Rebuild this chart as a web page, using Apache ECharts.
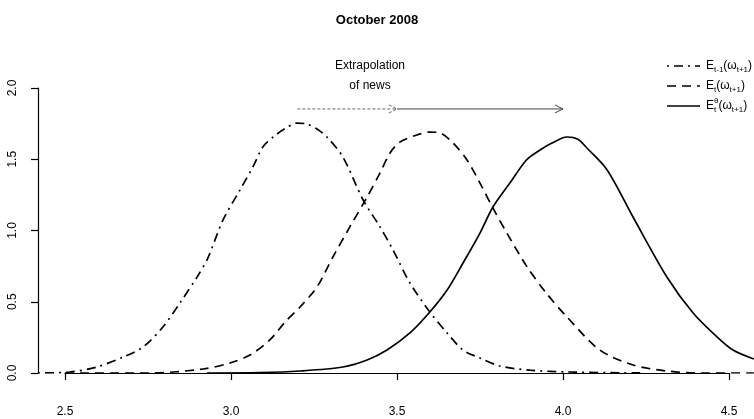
<!DOCTYPE html>
<html>
<head>
<meta charset="utf-8">
<script src="https://cdn.jsdelivr.net/npm/echarts@6/dist/echarts.min.js"></script>
<style>
  html, body { margin: 0; padding: 0; background: #fff; }
  #chart { width: 754px; height: 419px; }
</style>
</head>
<body>
<div id="chart"></div>
<script>
// Density of the expected omega_{t+1}: previous-period expectation
const prevX = [2.419, 2.515, 2.596, 2.675, 2.735, 2.795, 2.846, 2.898, 2.93, 2.976, 3.027, 3.066, 3.096, 3.127, 3.163, 3.199, 3.229, 3.26, 3.289, 3.337, 3.398, 3.449, 3.488, 3.539, 3.599, 3.651, 3.699, 3.75, 3.81, 3.9, 4.02, 4.247];
const prevY = [0.0, 0.007, 0.042, 0.112, 0.182, 0.323, 0.491, 0.674, 0.805, 1.074, 1.284, 1.446, 1.586, 1.656, 1.715, 1.754, 1.747, 1.71, 1.656, 1.516, 1.214, 1.025, 0.863, 0.632, 0.428, 0.281, 0.161, 0.105, 0.049, 0.02, 0.007, 0.0];

// Current-period expectation
const currX = [2.5, 2.756, 2.916, 2.997, 3.057, 3.117, 3.163, 3.208, 3.259, 3.307, 3.358, 3.41, 3.449, 3.479, 3.509, 3.56, 3.599, 3.63, 3.669, 3.711, 3.75, 3.789, 3.831, 3.892, 3.95, 4.012, 4.111, 4.211, 4.313, 4.41, 4.575];
const currY = [0.0, 0.0, 0.028, 0.07, 0.126, 0.232, 0.358, 0.463, 0.604, 0.814, 1.025, 1.235, 1.404, 1.544, 1.621, 1.67, 1.691, 1.684, 1.614, 1.495, 1.333, 1.158, 0.982, 0.744, 0.56, 0.393, 0.161, 0.056, 0.014, 0.0, 0.0];

// Expectation after extrapolating the news
const newsX = [2.928, 3.087, 3.208, 3.337, 3.41, 3.47, 3.539, 3.599, 3.651, 3.699, 3.75, 3.789, 3.84, 3.89, 3.931, 3.967, 4.012, 4.045, 4.072, 4.133, 4.211, 4.313, 4.392, 4.464, 4.512, 4.575];
const newsY = [0.0, 0.003, 0.014, 0.042, 0.091, 0.161, 0.281, 0.428, 0.582, 0.772, 0.982, 1.165, 1.333, 1.495, 1.565, 1.614, 1.656, 1.64, 1.579, 1.425, 1.095, 0.674, 0.421, 0.253, 0.161, 0.098];

// Arrows: [from, to, level, dashed]
const arrowFrom = [3.2, 3.5];
const arrowTo = [3.5, 4.0];
const arrowLevel = [1.853, 1.853];
const arrowDashed = [1, 0];

const xTicks = [2.5, 3.0, 3.5, 4.0, 4.5];
const yTicks = [0.0, 0.5, 1.0, 1.5, 2.0];

// plotting window (wider than the labelled axes, as in base-R graphics)
const xLo = 2.4187, xHi = 4.5754;

const FONT = '"Liberation Sans", Arial, Helvetica, sans-serif';
const DASH = [9, 6];
const DASHDOT = [2, 5, 9, 5];

function pairs(xs, ys) { return xs.map((x, i) => [x, ys[i]]); }

const chart = echarts.init(document.getElementById('chart'), null, { renderer: 'canvas' });

// measure text for the hand-built legend labels
const mctx = document.createElement('canvas').getContext('2d');
function tw(str, size) { mctx.font = size + 'px ' + FONT; return mctx.measureText(str).width; }

// Build E_sub(omega_sub) style label as a row of text pieces
function mathLabel(x, y, parts) {
  const children = [];
  let cx = x;
  const piece = (t, size, dy) => ({ type: 'text', x: cx, y: y + dy, style: { text: t, font: size + 'px ' + FONT, fill: '#000', textVerticalAlign: 'middle' } });
  parts.forEach(p => {
    if (p.stack) {
      let w = 0;
      p.stack.forEach(s => { children.push(piece(s.t, s.size, s.dy)); w = Math.max(w, tw(s.t, s.size)); });
      cx += w;
    } else {
      children.push(piece(p.t, p.size, p.dy));
      cx += tw(p.t, p.size);
    }
  });
  return children;
}

const B = 12, S = 8, SUB = 4;
const legendRows = [
  { dash: DASHDOT, parts: [{ t: 'E', size: B, dy: 0 }, { t: 't-1', size: S, dy: SUB }, { t: '(\u03c9', size: B, dy: 0 }, { t: 't+1', size: S, dy: SUB }, { t: ')', size: B, dy: 0 }] },
  { dash: DASH, parts: [{ t: 'E', size: B, dy: 0 }, { t: 't', size: S, dy: SUB }, { t: '(\u03c9', size: B, dy: 0 }, { t: 't+1', size: S, dy: SUB }, { t: ')', size: B, dy: 0 }] },
  { dash: 'solid', parts: [{ t: 'E', size: B, dy: 0 }, { stack: [{ t: '\u03b8', size: S, dy: -5 }, { t: 't', size: S, dy: SUB }] }, { t: '(\u03c9', size: B, dy: 0 }, { t: 't+1', size: S, dy: SUB }, { t: ')', size: B, dy: 0 }] }
];

const graphics = [];
legendRows.forEach((r, i) => {
  const yy = 66 + i * 20;
  graphics.push({ type: 'line', shape: { x1: 667, y1: yy, x2: 700, y2: yy }, style: { stroke: '#000', lineWidth: 1.6, lineDash: r.dash === 'solid' ? null : r.dash } });
  mathLabel(706, yy, r.parts).forEach(c => graphics.push(c));
});
graphics.push({ type: 'text', x: 370, y: 66, style: { text: 'Extrapolation', font: '12px ' + FONT, fill: '#000', textAlign: 'center', textVerticalAlign: 'middle' } });
graphics.push({ type: 'text', x: 370, y: 86, style: { text: 'of news', font: '12px ' + FONT, fill: '#000', textAlign: 'center', textVerticalAlign: 'middle' } });

const lineSeries = (name, xs, ys, dash) => ({
  name, type: 'line', data: pairs(xs, ys), showSymbol: false, symbol: 'none',
  xAxisIndex: 0, yAxisIndex: 0, smooth: 0.3, silent: true,
  lineStyle: { color: '#000', width: 1.7, type: dash }
});

const hiddenAxis = { type: 'value', show: false, splitLine: { show: false } };

chart.setOption({
  animation: false,
  backgroundColor: '#fff',
  title: {
    text: 'October 2008', left: 'center', top: 9,
    textStyle: { fontFamily: FONT, fontSize: 13, fontWeight: 'bold', color: '#000' }
  },
  grid: [
    { left: 38, right: 0, top: 88, bottom: 46 },   // data window
    { left: 65, right: 25, top: 88, bottom: 46 }   // labelled axes
  ],
  xAxis: [
    Object.assign({}, hiddenAxis, { gridIndex: 0, min: xLo, max: xHi }),
    {
      type: 'value', gridIndex: 1, min: xTicks[0], max: xTicks[xTicks.length - 1], interval: 0.5, offset: 12,
      axisLine: { show: true, lineStyle: { color: '#000', width: 1.2 } },
      axisTick: { show: true, length: 7, lineStyle: { color: '#000', width: 1.2 } },
      axisLabel: { color: '#000', fontFamily: FONT, fontSize: 12, margin: 21, formatter: v => v.toFixed(1) },
      splitLine: { show: false }
    }
  ],
  yAxis: [
    Object.assign({}, hiddenAxis, { gridIndex: 0, min: yTicks[0], max: yTicks[yTicks.length - 1] }),
    {
      type: 'value', gridIndex: 1, min: yTicks[0], max: yTicks[yTicks.length - 1], interval: 0.5, offset: 27,
      axisLine: { show: true, lineStyle: { color: '#000', width: 1.2 } },
      axisTick: { show: true, length: 7, lineStyle: { color: '#000', width: 1.2 } },
      axisLabel: { color: '#000', fontFamily: FONT, fontSize: 12, margin: 19, rotate: 90, formatter: v => v.toFixed(1) },
      splitLine: { show: false }
    }
  ],
  graphic: graphics,
  series: [
    lineSeries('prev', prevX, prevY, DASHDOT),
    lineSeries('curr', currX, currY, DASH),
    lineSeries('news', newsX, newsY, 'solid'),
    { type: 'line', xAxisIndex: 1, yAxisIndex: 1, data: [], silent: true },
    {
      type: 'custom', silent: true, clip: false, xAxisIndex: 0, yAxisIndex: 0,
      data: arrowFrom.map((f, i) => [f, arrowTo[i], arrowLevel[i], arrowDashed[i]]),
      encode: { x: [0, 1], y: 2 },
      renderItem: (params, api) => {
        const p0 = api.coord([api.value(0), api.value(2)]);
        const p1 = api.coord([api.value(1), api.value(2)]);
        const dashed = api.value(3) === 1;
        const col = dashed ? '#666' : '#444';
        return {
          type: 'group',
          children: [
            { type: 'line', shape: { x1: p0[0], y1: p0[1], x2: p1[0], y2: p1[1] }, style: { stroke: col, lineWidth: 1, lineDash: dashed ? [3, 2] : null } },
            { type: 'polyline', shape: { points: [[p1[0] - 8, p1[1] - 4], [p1[0], p1[1]], [p1[0] - 8, p1[1] + 4]] }, style: { stroke: col, lineWidth: 1, fill: null, lineDash: dashed ? [3, 2] : null } }
          ]
        };
      }
    }
  ]
});
</script>
</body>
</html>
